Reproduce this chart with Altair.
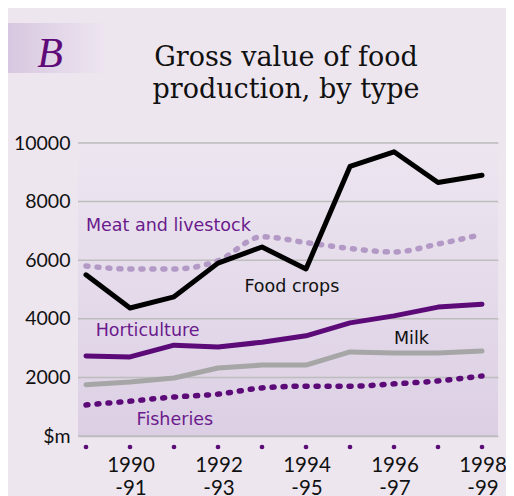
import altair as alt
import pandas as pd

years = ["1989-90", "1990-91", "1991-92", "1992-93", "1993-94",
         "1994-95", "1995-96", "1996-97", "1997-98", "1998-99"]
food_crops = [5500, 4370, 4750, 5900, 6450, 5700, 9200, 9700, 8650, 8900]
meat_livestock = [5800, 5700, 5700, 5980, 6800, 6600, 6400, 6280, 6550, 6880]
horticulture = [2730, 2700, 3100, 3040, 3200, 3420, 3860, 4100, 4400, 4500]
milk = [1750, 1840, 1980, 2320, 2420, 2420, 2870, 2830, 2830, 2900]
fisheries = [1060, 1190, 1330, 1430, 1640, 1700, 1700, 1780, 1880, 2050]

tick_labels = ["1990\n-91", "1992\n-93", "1994\n-95", "1996\n-97", "1998\n-99"]
tick_positions = [1, 3, 5, 7, 9]
y_ticks = [0, 2000, 4000, 6000, 8000, 10000]

W, H = 420, 293
FONT = "Lato"
LFONT = "DejaVu Sans"
DARK = "#5B0A78"

def frame(vals, name):
    return pd.DataFrame({"i": list(range(len(years))), "year": years,
                         "value": vals, "series": name})

xs = alt.Scale(domain=[-8 / 44, 9 + 16 / 44])
ys = alt.Scale(domain=[0, 10000])

xenc = alt.X("i:Q", scale=xs, axis=None)
yaxis = alt.Axis(
    values=y_ticks, labelExpr="datum.value == 0 ? '$m' : datum.value",
    grid=True, gridColor="#BDBDBD", gridWidth=1.5, domain=False, ticks=False,
    labelFont=FONT, labelFontSize=19.5, labelColor="#111111", labelPadding=8,
    title=None)

bg = alt.Chart(pd.DataFrame({"a": [0]})).mark_rect(
    color=alt.Gradient(gradient="linear", x1=0, y1=0, x2=0, y2=1,
                       stops=[alt.GradientStop(offset=0, color="#EDE6F0"),
                              alt.GradientStop(offset=1, color="#DCCFE4")])
).encode(x=alt.value(0), x2=alt.value(W), y=alt.value(0), y2=alt.value(H))

bbox = alt.Chart(pd.DataFrame({"a": [0]})).mark_rect(
    color=alt.Gradient(gradient="linear", x1=0, y1=0, x2=1, y2=0,
                       stops=[alt.GradientStop(offset=0, color="#D8C7E0"),
                              alt.GradientStop(offset=1, color="#EDE5F0")])
).encode(x=alt.value(-70), x2=alt.value(27), y=alt.value(-120), y2=alt.value(-70))

grid = alt.Chart(pd.DataFrame({"value": y_ticks})).mark_rule(
    color="#BDBDBD", strokeWidth=1.5).encode(y=alt.Y("value:Q", scale=ys, axis=yaxis))

def line(vals, name, color, width, dash=None, interp="linear"):
    kw = dict(color=color, strokeWidth=width, interpolate=interp,
              strokeCap="round", strokeJoin="round")
    if dash:
        kw["strokeDash"] = dash
    return alt.Chart(frame(vals, name)).mark_line(**kw).encode(
        x=xenc, y=alt.Y("value:Q", scale=ys))

l_fish = line(fisheries, "Fisheries", DARK, 5.5, [2, 9], "monotone")
l_milk = line(milk, "Milk", "#A6A6A6", 5)
l_hort = line(horticulture, "Horticulture", DARK, 5)
l_meat = line(meat_livestock, "Meat and livestock", "#B399C6", 5.5, [2, 9], "monotone")
l_food = line(food_crops, "Food crops", "#000000", 5)

dots = alt.Chart(pd.DataFrame({"i": list(range(len(years)))})).mark_circle(
    color=DARK, size=22, opacity=1).encode(x=xenc, y=alt.value(H + 11))

xt = alt.Chart(pd.DataFrame({"i": tick_positions, "lab": tick_labels})).mark_text(
    font=FONT, fontSize=20.5, color="#111111", baseline="top", lineBreak="\n",
    lineHeight=23, dx=1).encode(x=xenc, y=alt.value(H + 20), text="lab:N")

lab_df = pd.DataFrame({
    "i": [0.0, 3.6, 0.22, 7.0, 1.15],
    "value": [7170, 5070, 3570, 3300, 540],
    "t": ["Meat and livestock", "Food crops", "Horticulture", "Milk", "Fisheries"],
    "c": ["#6A1A8C", "#111111", "#6A1A8C", "#111111", "#6A1A8C"],
})
labels = alt.Chart(lab_df).mark_text(font=LFONT, fontSize=17.5, align="left",
                                     baseline="middle").encode(
    x=xenc, y=alt.Y("value:Q", scale=ys), text="t:N",
    color=alt.Color("c:N", scale=None))

title = alt.Chart(pd.DataFrame({"t": ["Gross value of food\nproduction, by type"]})).mark_text(
    font="DejaVu Serif", fontSize=27, color="#111111", align="center",
    baseline="alphabetic", lineBreak="\n", lineHeight=32).encode(
    x=alt.value(208), y=alt.value(-77), text="t:N")

bletter = alt.Chart(pd.DataFrame({"t": ["B"]})).mark_text(
    font="Liberation Serif", fontSize=42, fontStyle="italic", color="#5E0A78",
    align="center", baseline="alphabetic").encode(
    x=alt.value(-28), y=alt.value(-76), text="t:N")

chart = alt.layer(bg, grid, l_fish, l_milk, l_hort, l_meat, l_food, dots, xt,
                  labels, bbox, title, bletter).properties(
    width=W, height=H,
    autosize=alt.AutoSizeParams(type="none"),
    padding={"left": 70, "top": 135, "right": 8, "bottom": 60},
    background="#EEE6EF",
).configure_view(stroke=None)

chart.save("out.html", embed_options={"renderer": "svg", "actions": False})
